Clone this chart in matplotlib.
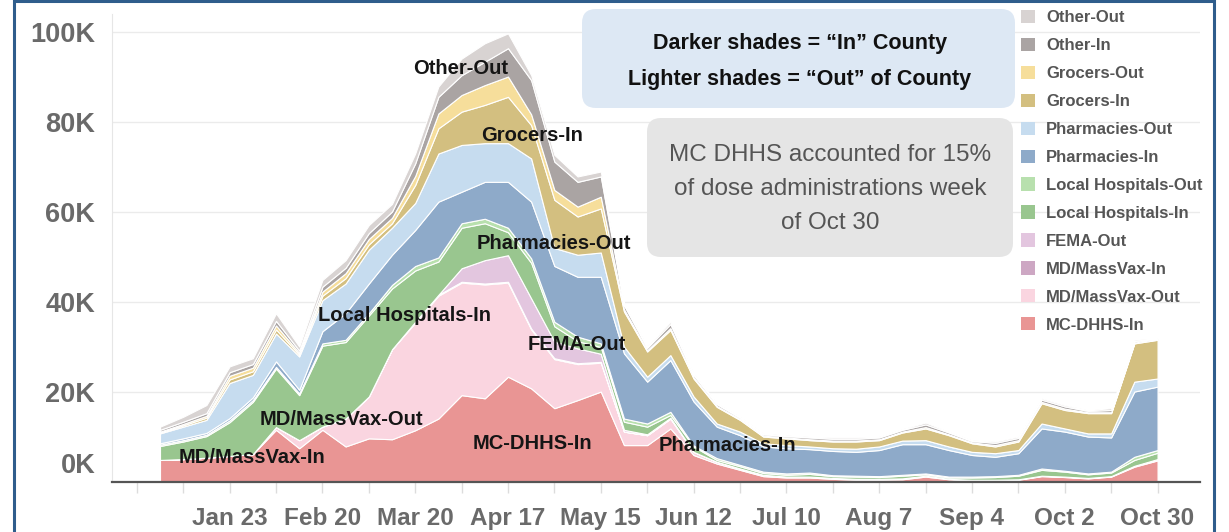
import numpy as np
import matplotlib
matplotlib.use('Agg')
import matplotlib.pyplot as plt
from matplotlib.patches import Patch, Rectangle, FancyBboxPatch
from matplotlib.transforms import ScaledTranslation, IdentityTransform

FONT = ['Liberation Sans', 'DejaVu Sans']

# weekly doses (thousands), week 0 = Jan 2 2021 ... week 43 = Oct 30 2021
weeks = np.arange(44)
tick_pos = [3, 7, 11, 15, 19, 23, 27, 31, 35, 39, 43]
tick_labels = ['Jan 23', 'Feb 20', 'Mar 20', 'Apr 17', 'May 15', 'Jun 12',
               'Jul 10', 'Aug 7', 'Sep 4', 'Oct 2', 'Oct 30']

mc_dhhs_in = [4.9, 5.1, 5.4, 5.8, 6.2, 11.6, 7.5, 11.6, 7.9, 9.7,
              9.5, 11.5, 14.1, 19.3, 18.6, 23.4, 20.8, 16.4, 18.2, 20.1,
              8.2, 8.2, 11.9, 6.0, 4.1, 2.7, 1.3, 1.0, 1.0, 0.7,
              0.5, 0.5, 0.6, 1.2, 0.6, 0.4, 0.4, 0.5, 1.3, 1.1,
              0.8, 1.2, 3.4, 4.8]
mdmv_out = [0, 0, 0, 0, 0, 0.6, 1.8, 0.7, 6.2, 9.3,
            20.0, 23.9, 27.3, 25.0, 25.3, 20.9, 13.1, 10.9, 8.0, 6.4,
            3.0, 2.2, 2.2, 0.7, 0.4, 0.3, 0.3, 0.2, 0.2, 0.2,
            0.2, 0.2, 0.2, 0.2, 0.1, 0.1, 0.1, 0.1, 0.1, 0.1,
            0.1, 0.1, 0.2, 0.3]
mdmv_in = [0, 0, 0, 0, 0, 0, 0, 0, 0, 0,
           0, 0.2, 0.2, 0.2, 0.2, 0.2, 0.2, 0.2, 0.2, 0.2,
           0, 0, 0, 0, 0, 0, 0, 0, 0, 0,
           0, 0, 0, 0, 0, 0, 0, 0, 0, 0,
           0, 0, 0, 0]
fema_out = [0, 0, 0, 0, 0, 0, 0, 0, 0, 0,
            0, 0, 0, 3.0, 5.2, 5.9, 6.7, 3.7, 3.3, 1.8,
            0.4, 0.2, 0.2, 0, 0, 0, 0, 0, 0, 0,
            0, 0, 0, 0, 0, 0, 0, 0, 0, 0,
            0, 0, 0, 0]
hosp_in = [3.1, 3.9, 4.8, 7.5, 11.6, 13.0, 10.0, 18.0, 17.0, 18.0,
           13.5, 11.4, 7.4, 9.0, 8.2, 5.1, 7.9, 3.4, 1.6, 1.5,
           1.8, 1.7, 0.6, 1.2, 0.4, 0.5, 0.4, 0.4, 0.6, 0.4,
           0.5, 0.4, 0.6, 0.3, 0.3, 0.5, 0.6, 0.8, 1.3, 1.1,
           0.8, 0.8, 1.3, 1.4]
hosp_out = [0.3, 0.3, 0.3, 0.4, 0.4, 0.4, 0.4, 0.5, 0.5, 0.5,
            0.8, 1.0, 0.9, 1.0, 1.0, 1.0, 1.0, 1.0, 1.0, 0.8,
            0.7, 0.7, 0.7, 0.2, 0.4, 0.3, 0.3, 0.3, 0.3, 0.2,
            0.2, 0.2, 0.2, 0.2, 0.2, 0.2, 0.2, 0.2, 0.3, 0.2,
            0.2, 0.2, 0.7, 0.6]
pharm_in = [0.3, 0.4, 0.4, 0.5, 0.6, 1.2, 0.8, 2.7, 5.9, 6.6,
            6.7, 8.0, 12.4, 7.0, 8.2, 10.2, 12.6, 12.4, 13.3, 14.8,
            14.5, 9.3, 11.5, 9.8, 7.0, 6.6, 5.6, 5.6, 5.2, 5.4,
            5.3, 5.8, 6.8, 6.5, 5.9, 4.8, 4.3, 4.8, 8.9, 8.7,
            8.2, 7.6, 14.5, 14.1]
pharm_out = [2.2, 2.6, 2.9, 7.8, 5.0, 6.2, 7.4, 6.9, 6.6, 7.5,
             6.0, 6.0, 10.7, 10.4, 8.6, 8.6, 9.6, 4.0, 4.9, 5.4,
             1.5, 1.1, 1.1, 1.1, 0.7, 0.8, 0.7, 0.7, 0.6, 0.6,
             0.7, 0.8, 0.8, 0.9, 0.8, 0.7, 0.8, 0.7, 1.1, 0.7,
             0.7, 0.9, 2.2, 1.8]
groc_in = [0.2, 0.3, 0.5, 0.8, 0.8, 0.9, 0.4, 1.0, 1.2, 1.2,
           1.0, 4.0, 5.6, 7.4, 8.5, 10.3, 7.4, 10.7, 8.5, 9.8,
           7.8, 5.6, 5.6, 4.0, 3.7, 2.6, 1.5, 1.5, 1.4, 1.5,
           1.6, 1.4, 1.8, 2.6, 2.5, 1.9, 1.5, 1.9, 4.5, 4.1,
           4.5, 4.5, 8.5, 8.6]
groc_out = [0.2, 0.3, 0.4, 0.8, 0.8, 0.9, 0.4, 0.9, 1.1, 1.2,
            1.2, 2.0, 3.3, 3.7, 4.4, 4.5, 2.4, 2.2, 2.2, 2.6,
            0.5, 0.3, 0.4, 0.3, 0.2, 0.2, 0.2, 0.2, 0.2, 0.2,
            0.2, 0.2, 0.2, 0.3, 0.2, 0.2, 0.3, 0.3, 0.3, 0.3,
            0.2, 0.2, 0.2, 0.1]
other_in = [0.4, 0.5, 0.6, 0.8, 0.8, 1.0, 0.5, 1.1, 1.2, 1.3,
            1.4, 2.8, 3.7, 4.4, 5.2, 6.3, 7.6, 6.3, 5.5, 4.5,
            0.9, 0.5, 0.9, 0.5, 0.4, 0.3, 0.3, 0.3, 0.4, 0.4,
            0.4, 0.4, 0.4, 0.6, 0.4, 0.3, 0.5, 0.5, 0.5, 0.5,
            0.3, 0.5, 0.3, 0.1]
other_out = [0.7, 1.1, 1.8, 1.3, 1.3, 1.7, 0.9, 1.5, 1.7, 1.8,
             1.7, 2.2, 2.3, 3.7, 4.1, 3.3, 1.1, 1.5, 1.2, 1.1,
             0.4, 0.3, 0.5, 0.3, 0.2, 0.2, 0.2, 0.2, 0.2, 0.3,
             0.3, 0.2, 0.2, 0.4, 0.2, 0.2, 0.3, 0.3, 0.3, 0.3,
             0.2, 0.4, 0.3, 0.1]

# bottom -> top
series = [mc_dhhs_in, mdmv_out, mdmv_in, fema_out, hosp_in, hosp_out,
          pharm_in, pharm_out, groc_in, groc_out, other_in, other_out]
names = ['MC-DHHS-In', 'MD/MassVax-Out', 'MD/MassVax-In', 'FEMA-Out',
         'Local Hospitals-In', 'Local Hospitals-Out', 'Pharmacies-In',
         'Pharmacies-Out', 'Grocers-In', 'Grocers-Out', 'Other-In', 'Other-Out']
colors = ['#e99594', '#fad5e0', '#cda7c3', '#e3c6df', '#99c68f', '#b8e0ae',
          '#8eaac9', '#c6dcef', '#d3bf80', '#f6de9b', '#aaa4a3', '#d8d3d2']

# in-chart labels: (text, week, thousands)
area_labels = [('Other-Out', 12.97, 91.8), ('Grocers-In', 16.03, 77.0),
               ('Pharmacies-Out', 16.98, 53.1), ('Local Hospitals-In', 10.55, 36.9),
               ('FEMA-Out', 17.97, 30.6), ('MD/MassVax-Out', 7.80, 13.8),
               ('MC-DHHS-In', 16.07, 8.6), ('Pharmacies-In', 24.44, 8.2),
               ('MD/MassVax-In', 3.96, 5.5)]

W, H = 1229, 532
fig = plt.figure(figsize=(W / 100, H / 100), dpi=100)
ax = fig.add_axes([112 / W, 1 - 482 / H, (1200 - 112) / W, (482 - 14) / H])

ax.stackplot(weeks, *series, colors=colors, edgecolor='white', linewidth=0.8, zorder=2)

ax.set_xlim(-2.07, 44.83)
ax.set_ylim(0, 104)
ax.set_yticks([0, 20, 40, 60, 80, 100])
ax.set_yticklabels(['%dK' % v for v in [0, 20, 40, 60, 80, 100]],
                   family=FONT, weight='bold', size=19.5, color='#6a6a6a')
ax.tick_params(axis='y', length=0, pad=12)
ax.yaxis.grid(True, color='#ebebeb', lw=1)
ax.set_axisbelow(True)

ax.set_xticks(tick_pos)
ax.set_xticks(np.arange(-1, 45, 2), minor=True)
ax.set_xticklabels(tick_labels, family=FONT, weight='bold', size=17.5, color='#6a6a6a')
ax.tick_params(axis='x', which='both', length=8, color='#dcdcdc', width=1)
ax.tick_params(axis='x', which='major', pad=10)

for s in ['top', 'right']:
    ax.spines[s].set_visible(False)
ax.spines['left'].set_color('#e6e6e6')
ax.spines['bottom'].set_color('#555555')
ax.spines['bottom'].set_linewidth(1.6)

# tableau puts the 0K label above the baseline
zero_lab = ax.get_yticklabels()[0]
zero_lab.set_transform(zero_lab.get_transform() + ScaledTranslation(0, 19 / 100, fig.dpi_scale_trans))

for txt, xw, yv in area_labels:
    ax.text(xw, yv, txt, ha='center', va='center', family=FONT, weight='bold',
            size=14.5, color='#151515', zorder=5)

# annotation boxes (pixel coords)
blue = FancyBboxPatch((582, H - 108), 433, 99, boxstyle='round,pad=0,rounding_size=14',
                      transform=IdentityTransform(), facecolor='#dde8f4', edgecolor='none', zorder=3)
grey = FancyBboxPatch((647, H - 257), 366, 139, boxstyle='round,pad=0,rounding_size=14',
                      transform=IdentityTransform(), facecolor='#e5e5e5', edgecolor='none', zorder=3)
fig.add_artist(blue)
fig.add_artist(grey)
fig.text(800 / W, 1 - 44 / H, 'Darker shades = \u201cIn\u201d County', ha='center', va='center',
         family=FONT, weight='bold', size=15.5, color='#111111', zorder=4)
fig.text(800 / W, 1 - 79 / H, 'Lighter shades = \u201cOut\u201d of County', ha='center', va='center',
         family=FONT, weight='bold', size=15.5, color='#111111', zorder=4)
for k, line in enumerate(['MC DHHS accounted for 15%', 'of dose administrations week', 'of Oct 30']):
    fig.text(830 / W, 1 - (155 + 34 * k) / H, line, ha='center', va='center',
             family=FONT, size=17.5, color='#555555', zorder=4)

handles = [Patch(facecolor=c, edgecolor='none') for c in colors[::-1]]
fig.legend(handles, names[::-1], loc='upper left', bbox_to_anchor=(1021 / W, 1 - 10 / H),
           frameon=False, prop=dict(family=FONT, weight='bold', size=12),
           labelcolor='#555555', handlelength=0.85, handleheight=0.85, handletextpad=0.65,
           labelspacing=0.75, borderpad=0, borderaxespad=0)

# dark blue frame around the slide region
fig.add_artist(Rectangle((14, -20), 1200, H + 19, transform=IdentityTransform(),
                         fill=False, edgecolor='#2f5d8c', lw=2.2, zorder=10))

fig.savefig('out.png', dpi=100)
